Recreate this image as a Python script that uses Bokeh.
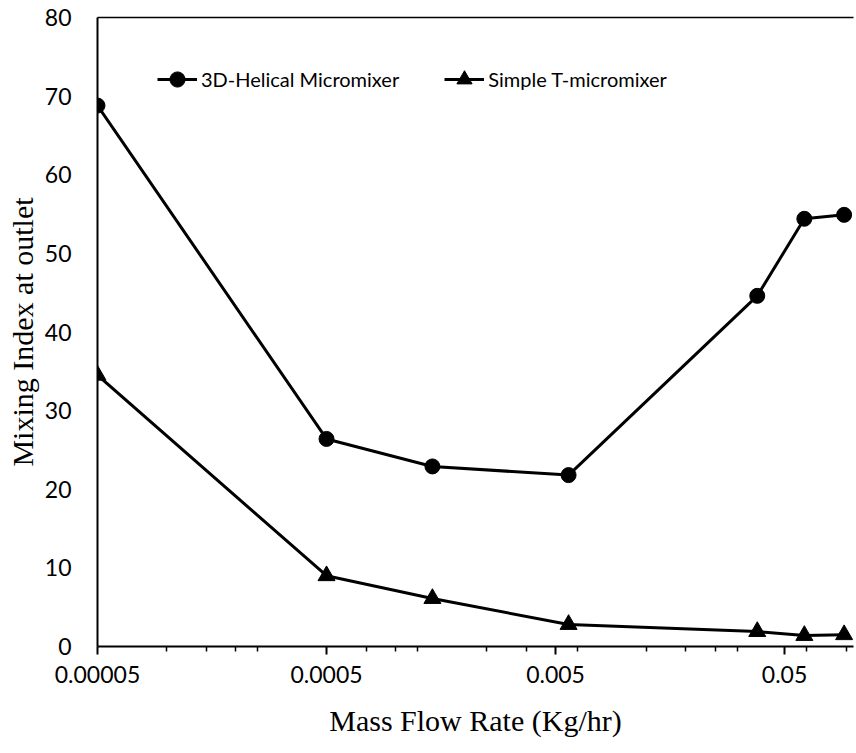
from bokeh.plotting import figure
from bokeh.models import (FixedTicker, CustomJSTickFormatter, Legend, LegendItem,
                          Range1d, LogAxis)
from bokeh.embed import file_html
from bokeh.resources import INLINE

# Mass flow rate (Kg/hr) and mixing index at the outlet
flow_rate = [0.00005, 0.0005, 0.00145, 0.0057, 0.038, 0.061, 0.091]
helical = [68.8, 26.4, 22.9, 21.8, 44.6, 54.4, 54.9]
simple_t = [34.5, 9.0, 6.1, 2.8, 1.9, 1.4, 1.5]

series_names = ["3D-Helical Micromixer", "Simple T-micromixer"]

x_ticks = [0.00005, 0.0005, 0.005, 0.05]
x_tick_labels = ["0.00005", "0.0005", "0.005", "0.05"]
x_minor_ticks = [0.0001, 0.00015, 0.0002, 0.00025,
                 0.00075, 0.001, 0.00125, 0.0025, 0.00375,
                 0.00625, 0.0125, 0.0185, 0.025, 0.031,
                 0.0625, 0.093]
y_ticks = [0, 10, 20, 30, 40, 50, 60, 70, 80]

TICK_FONT = "Lato"
TITLE_FONT = "Liberation Serif"

p = figure(width=856, height=753, x_axis_type="log",
           x_range=Range1d(0.00005, 0.1), y_range=Range1d(0, 80),
           output_backend="svg", toolbar_location=None,
           min_border_left=97, min_border_right=3,
           min_border_top=17, min_border_bottom=107)

p.grid.visible = False
p.outline_line_color = None
p.background_fill_color = "white"
p.border_fill_color = "white"

# series
l1 = p.line(flow_rate, helical, line_color="black", line_width=3)
s1 = p.scatter(flow_rate, helical, marker="circle", size=15,
               fill_color="black", line_color="black")
l2 = p.line(flow_rate, simple_t, line_color="black", line_width=3)
s2 = p.scatter(flow_rate, simple_t, marker="triangle", size=17,
               fill_color="black", line_color="black")

# x axis (log)
xa = p.xaxis[0]
xa.ticker = FixedTicker(ticks=x_ticks, minor_ticks=x_minor_ticks)
xa.formatter = CustomJSTickFormatter(args=dict(tvals=x_ticks, tlabels=x_tick_labels), code="""
    let best = 0, bd = 1e9;
    for (let k = 0; k < tvals.length; k++) {
        const d = Math.abs(Math.log10(tvals[k]) - Math.log10(tick));
        if (d < bd) { bd = d; best = k; }
    }
    return tlabels[best];
""")
xa.axis_label = "Mass Flow Rate (Kg/hr)"
xa.axis_line_width = 2
xa.major_tick_out = 8
xa.major_tick_in = 0
xa.minor_tick_out = 5
xa.minor_tick_in = 0
xa.major_tick_line_width = 2
xa.minor_tick_line_width = 1.5
xa.major_label_standoff = 11
xa.axis_label_standoff = 18

# y axis
ya = p.yaxis[0]
ya.ticker = FixedTicker(ticks=y_ticks)
ya.axis_label = "Mixing Index at outlet"
ya.axis_line_width = 2
ya.major_tick_line_color = None
ya.minor_tick_line_color = None
ya.major_label_standoff = 20
ya.axis_label_standoff = 3

for ax in (xa, ya):
    ax.major_label_text_font = TICK_FONT
    ax.major_label_text_font_size = "23px"
    ax.major_label_text_color = "black"
    ax.axis_label_text_font = TITLE_FONT
    ax.axis_label_text_font_size = "30px"
    ax.axis_label_text_font_style = "normal"
    ax.axis_label_text_color = "black"
    ax.axis_line_color = "black"

# plain line along the top of the plotting area
top = LogAxis(ticker=FixedTicker(ticks=[]), axis_line_color="black",
              axis_line_width=1.5, major_tick_line_color=None,
              minor_tick_line_color=None, major_label_text_font_size="0px")
p.add_layout(top, "above")

legend = Legend(items=[
    LegendItem(label=series_names[0], renderers=[l1, s1]),
    LegendItem(label=series_names[1], renderers=[l2, s2]),
], orientation="horizontal", location=(60, 548))
legend.border_line_color = None
legend.background_fill_alpha = 0
legend.padding = 0
legend.margin = 0
legend.glyph_width = 40
legend.glyph_height = 38
legend.label_standoff = 4
legend.spacing = 45
legend.label_text_font = TICK_FONT
legend.label_text_font_size = "20px"
legend.label_text_color = "black"
p.add_layout(legend)

open("out.html", "w").write(file_html(p, INLINE))
